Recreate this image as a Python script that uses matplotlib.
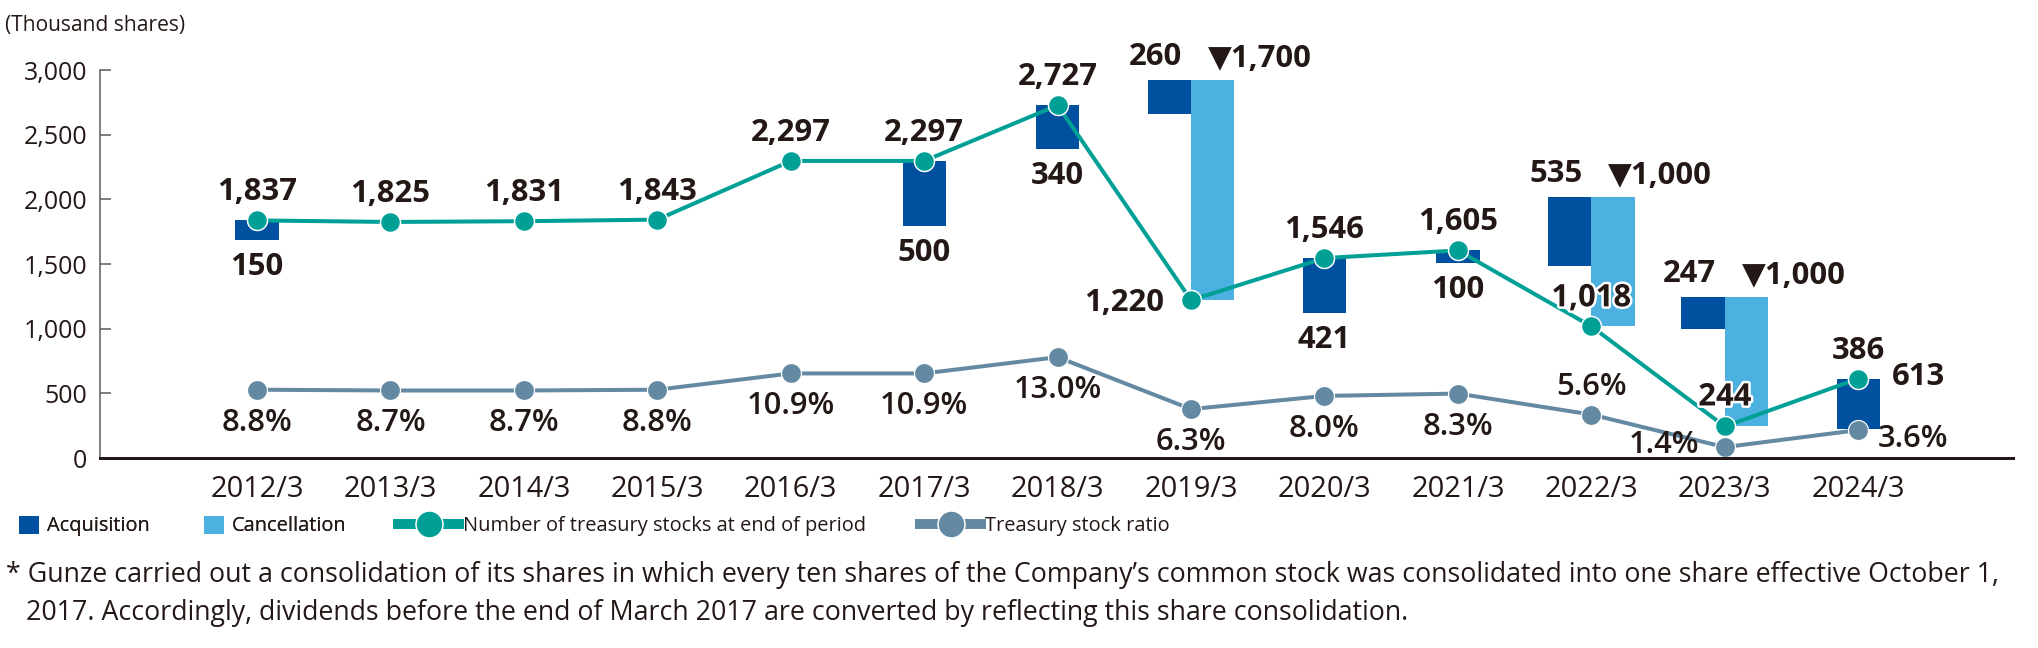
import numpy as np
import matplotlib.pyplot as plt
import matplotlib.patheffects as pe
from matplotlib.lines import Line2D
from matplotlib.patches import Patch

plt.rcParams['font.family'] = ['Open Sans', 'DejaVu Sans']

years = ['2012/3', '2013/3', '2014/3', '2015/3', '2016/3', '2017/3', '2018/3',
         '2019/3', '2020/3', '2021/3', '2022/3', '2023/3', '2024/3']
stocks = [1837, 1825, 1831, 1843, 2297, 2297, 2727, 1220, 1546, 1605, 1018, 244, 613]
acquired = [150, 0, 0, 0, 0, 500, 340, 260, 421, 100, 535, 247, 386]
cancelled = [0, 0, 0, 0, 0, 0, 0, 1700, 0, 0, 1000, 1000, 0]
ratio = [8.8, 8.7, 8.7, 8.8, 10.9, 10.9, 13.0, 6.3, 8.0, 8.3, 5.6, 1.4, 3.6]

# the ratio line shares the left axis: 1% is drawn as ~60 thousand shares
RATIO_SCALE = 60

DARK = '#0050a0'
LIGHT = '#4cb0e0'
TEAL = '#00a096'
GREY = '#6489a2'
INK = '#231815'

W, H = 2038, 648
fig = plt.figure(figsize=(W / 72, H / 72), dpi=72)
ax = fig.add_axes([100 / W, 190 / H, 1913 / W, 428 / H])

x = np.arange(len(years))
st = np.array(stocks)
acq = np.array(acquired)
canc = np.array(cancelled)
pct = np.array(ratio) * RATIO_SCALE

w = 0.325
paired = canc > 0
has_acq = acq > 0
top = st + canc
acq_x = np.where(paired, x - w / 2, x)
canc_x = x + w / 2

ax.bar(acq_x[has_acq], acq[has_acq], bottom=(top - acq)[has_acq], width=w,
       color=DARK, zorder=1)
ax.bar(canc_x[paired], canc[paired], bottom=st[paired], width=w,
       color=LIGHT, zorder=1)

ax.plot(x, pct, color=GREY, lw=4, marker='o', ms=20, mec='white', mew=1.2, zorder=2)
ax.plot(x, st, color=TEAL, lw=4, marker='o', ms=20, mec='white', mew=1.5, zorder=3)

halo = [pe.withStroke(linewidth=5, foreground='white')]
bold = dict(fontsize=31, fontweight='bold', color=INK, va='center',
            textcoords='offset points', zorder=5)
plain = dict(fontsize=31, fontweight='semibold', color=INK, va='center',
             textcoords='offset points', zorder=5)

# stock count labels: (dx, dy, ha, halo)
stock_pos = {7: (-27, -3, 'right', False), 10: (0, 28, 'center', True),
             11: (0, 29, 'center', True), 12: (34, 2, 'left', False)}
for i, v in enumerate(stocks):
    dx, dy, ha, h = stock_pos.get(i, (0, 28, 'center', False))
    ax.annotate(f'{v:,}', (x[i], v), xytext=(dx, dy), ha=ha,
                path_effects=halo if h else None, **bold)

# acquisition labels, above the bar where a cancellation sits next to it
for i in np.where(has_acq)[0]:
    label = f'{acq[i]:,}'
    if paired[i]:
        ax.annotate(label, (acq_x[i], top[i]), xytext=(-14, 23), ha='center', **bold)
    elif i == len(years) - 1:
        ax.annotate(label, (acq_x[i], top[i]), xytext=(0, 28), ha='center', **bold)
    else:
        ax.annotate(label, (acq_x[i], top[i] - acq[i]), xytext=(0, -27),
                    ha='center', **bold)

for i in np.where(paired)[0]:
    ax.annotate(f'\u25bc{canc[i]:,}', (canc_x[i] - w / 2, top[i]), xytext=(17, 21),
                ha='left', **bold)

# ratio labels
pct_pos = {10: (0, 28, 'center'), 11: (-26, 2, 'right'), 12: (20, -9, 'left')}
for i, r in enumerate(ratio):
    dx, dy, ha = pct_pos.get(i, (0, -33, 'center'))
    ax.annotate(f'{r:.1f}%', (x[i], pct[i]), xytext=(dx, dy), ha=ha, **plain)

ax.set_xlim(-1.177, 13.16)
ax.set_ylim(0, 428 / 0.12933)
ax.set_yticks(range(0, 3001, 500))
ax.set_yticklabels([f'{v:,}' for v in range(0, 3001, 500)])
ax.set_xticks(x)
ax.set_xticklabels(years, fontweight='medium')
ax.tick_params(axis='x', length=0, pad=17, labelsize=29, labelcolor=INK)
ax.tick_params(axis='y', direction='in', length=11, width=1.5, color='#595757',
               pad=13, labelsize=25, labelcolor=INK)

for s in ['top', 'right']:
    ax.spines[s].set_visible(False)
ax.spines['left'].set_bounds(0, 3000)
ax.spines['left'].set_color('#595757')
ax.spines['left'].set_linewidth(1.5)
ax.spines['bottom'].set_color(INK)
ax.spines['bottom'].set_linewidth(3)
ax.spines['bottom'].set_zorder(4)

fig.text(5 / W, 1 - 25 / H, '(Thousand shares)', fontsize=21, color=INK, va='center')

leg1 = fig.legend(handles=[Patch(color=DARK, label='Acquisition'),
                           Patch(color=LIGHT, label='Cancellation')],
                  loc='center left', bbox_to_anchor=(19 / W, 1 - 526 / H),
                  ncol=2, frameon=False, fontsize=20, handlelength=0.95,
                  handleheight=0.95, handletextpad=0.45, columnspacing=2.7,
                  borderpad=0, borderaxespad=0)
for t in leg1.get_texts():
    t.set_color(INK)
leg2 = fig.legend(handles=[Line2D([], [], color=TEAL, lw=10, marker='o', ms=27,
                                  mec='white', mew=1.5,
                                  label='Number of treasury stocks at end of period'),
                           Line2D([], [], color=GREY, lw=10, marker='o', ms=27,
                                  mec='white', mew=1.5, label='Treasury stock ratio')],
                  loc='center left', bbox_to_anchor=(398 / W, 1 - 526 / H),
                  ncol=2, frameon=False, fontsize=20, handlelength=3.05,
                  handletextpad=0.2, columnspacing=2.7, numpoints=1,
                  borderpad=0, borderaxespad=0)
for t in leg2.get_texts():
    t.set_color(INK)
fig.add_artist(leg1)

fig.text(6 / W, 1 - 575 / H,
         '* Gunze carried out a consolidation of its shares in which every ten shares '
         'of the Company\u2019s common stock was consolidated into one share effective October 1,',
         fontsize=26.8, color=INK, va='center')
fig.text(26 / W, 1 - 613 / H,
         '2017. Accordingly, dividends before the end of March 2017 are converted by '
         'reflecting this share consolidation.',
         fontsize=26.8, color=INK, va='center')

fig.savefig('out.png', dpi=72)
